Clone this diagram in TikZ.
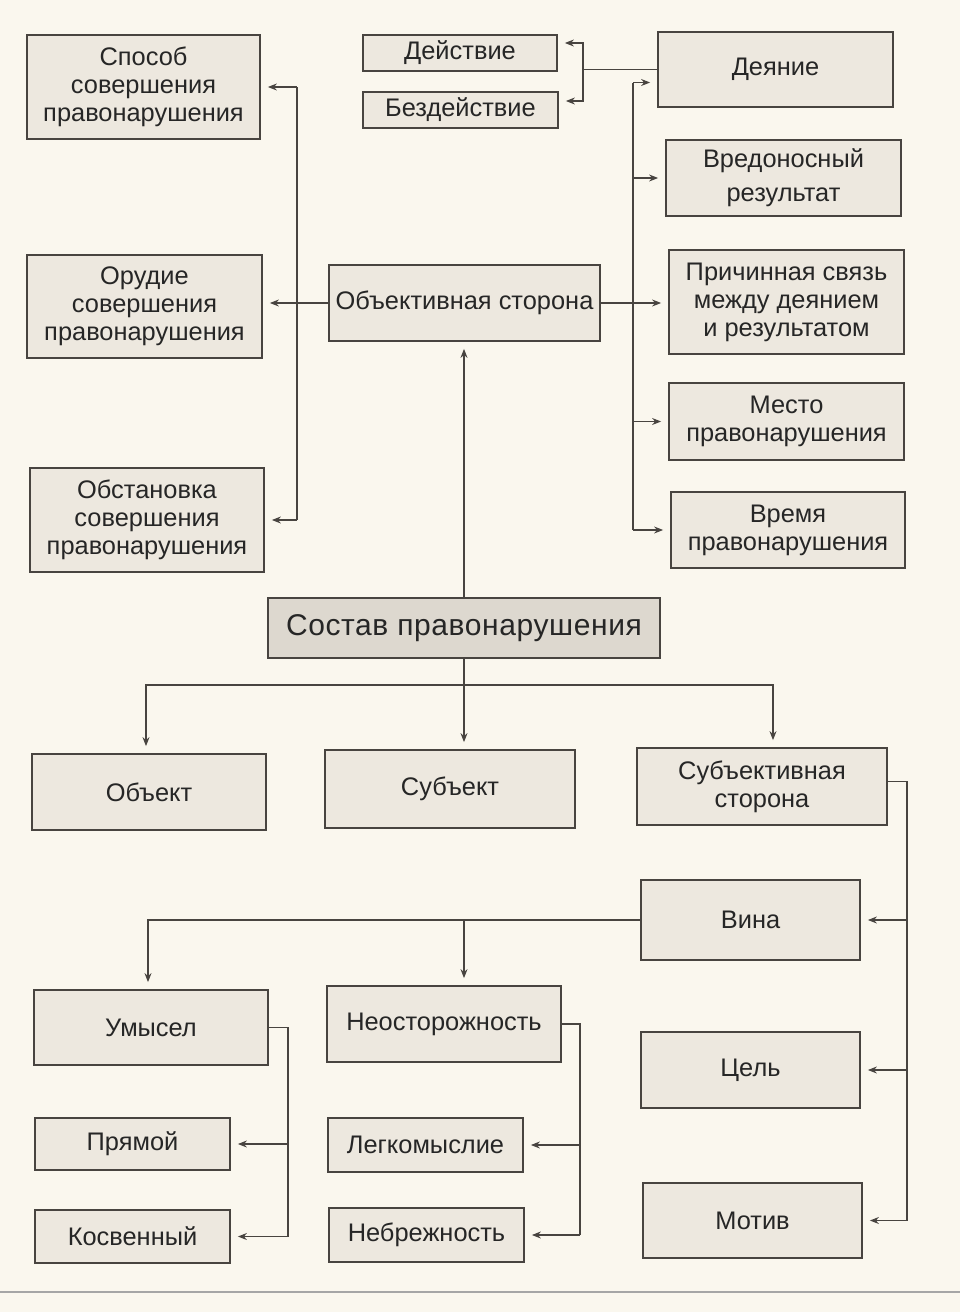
\documentclass[tikz,border=0pt]{standalone}
\usepackage{fontspec}
\setmainfont{Liberation Sans}
\usetikzlibrary{arrows.meta}
\definecolor{paper}{RGB}{250,247,238}
\definecolor{boxfill}{RGB}{237,232,223}
\definecolor{mainfill}{RGB}{221,216,207}
\definecolor{ink}{RGB}{72,68,64}
\begin{document}
\begin{tikzpicture}[x=1pt,y=-1pt,
        box/.style={draw=ink,line width=1.8pt,fill=boxfill,align=center,inner sep=2pt,
            text=black!85,font=\fontsize{25.4}{28}\selectfont},
        mainbox/.style={box,fill=mainfill,font=\fontsize{30}{32}\selectfont\addfontfeatures{LetterSpace=2}},
        arr/.style={-{Stealth[length=9pt,width=7pt]},ink,line width=1.1pt,shorten >=7pt},
        ln/.style={ink,line width=1.1pt}]
    \fill[paper] (0,0) rectangle (960,1312);
    \useasboundingbox (0,0) rectangle (960,1312);
    \draw[black!35,line width=1.2pt] (0,1292) -- (960,1292);
    % objective side
    \node[box,minimum width=271pt,minimum height=76pt] (obj) at (464.5,303) {Объективная сторона};
    \node[box,minimum width=233pt,minimum height=104pt] (sposob) at (143.5,87) {Способ\\совершения\\правонарушения};
    \node[box,minimum width=235pt,minimum height=103pt] (orud) at (144.5,306.5) {Орудие\\совершения\\правонарушения};
    \node[box,minimum width=234pt,minimum height=104pt] (obstan) at (147,520) {Обстановка\\совершения\\правонарушения};
    \node[box,minimum width=194pt,minimum height=36pt] (deistv) at (460,53) {Действие};
    \node[box,minimum width=195pt,minimum height=36pt] (bezd) at (460.5,110) {Бездействие};
    \node[box,minimum width=235pt,minimum height=75pt] (deyan) at (775.5,69.5) {Деяние};
    \node[box,minimum width=235pt,minimum height=76pt] (vred) at (783.5,178) {Вредоносный\\[6pt]результат};
    \node[box,minimum width=235pt,minimum height=104pt] (prich) at (786.5,302) {Причинная связь\\между деянием\\и результатом};
    \node[box,minimum width=235pt,minimum height=77pt] (mesto) at (786.5,421.5) {Место\\правонарушения};
    \node[box,minimum width=234pt,minimum height=76pt] (vremya) at (788,530) {Время\\правонарушения};
    % main node
    \node[mainbox,minimum width=392pt,minimum height=60pt] (sostav) at (464,628) {Состав правонарушения};
    % elements
    \node[box,minimum width=234pt,minimum height=76pt] (obekt) at (149,792) {Объект};
    \node[box,minimum width=250pt,minimum height=78pt] (subekt) at (450,789) {Субъект};
    \node[box,minimum width=250pt,minimum height=77pt] (subside) at (762,786.5) {Субъективная\\сторона};
    % subjective side
    \node[box,minimum width=219pt,minimum height=80pt] (vina) at (750.5,920) {Вина};
    \node[box,minimum width=219pt,minimum height=76pt] (cel) at (750.5,1070) {Цель};
    \node[box,minimum width=219pt,minimum height=75pt] (motiv) at (752.5,1220.5) {Мотив};
    \node[box,minimum width=234pt,minimum height=75pt] (umysel) at (151,1027.5) {Умысел};
    \node[box,minimum width=234pt,minimum height=76pt] (neost) at (444,1024) {Неосторожность};
    \node[box,minimum width=195pt,minimum height=52pt] (pryam) at (132.5,1144) {Прямой};
    \node[box,minimum width=195pt,minimum height=53pt] (kosv) at (132.5,1236.5) {Косвенный};
    \node[box,minimum width=195pt,minimum height=54pt] (legk) at (425.5,1145) {Легкомыслие};
    \node[box,minimum width=195pt,minimum height=54pt] (nebr) at (426.5,1235) {Небрежность};

    % connectors of the objective side
    \coordinate (lbus) at (297,0);
    \coordinate (rbus) at (633,0);
    \coordinate (tbus) at (583,0);
    \coordinate (deyin) at ([yshift=-13pt]deyan.west);
    \draw[arr] (obj.west) -- (obj.west -| orud.east);
    \draw[ln] (lbus |- sposob) -- (lbus |- obstan);
    \draw[arr] (lbus |- sposob) -- (sposob.east);
    \draw[arr] (lbus |- obstan) -- (obstan.east);
    \draw[arr] (obj.east) -- (obj.east -| prich.west);
    \draw[ln] (rbus |- deyin) -- (rbus |- vremya);
    \draw[arr] (rbus |- deyin) -- (deyin);
    \draw[arr] (rbus |- vred) -- (vred.west);
    \draw[arr] (rbus |- mesto) -- (mesto.west);
    \draw[arr] (rbus |- vremya) -- (vremya.west);
    \draw[ln] (deyan.west) -- (tbus |- deyan.west);
    \draw[arr] (tbus |- deyan.west) |- ([yshift=10pt]deistv.east);
    \draw[arr] (tbus |- deyan.west) |- ([yshift=9pt]bezd.east);
    % connectors of the main node
    \draw[arr] (sostav.north) -- (sostav.north |- obj.south);
    \coordinate (bar) at (0,685);
    \draw[arr] (sostav.south) -- (sostav.south |- subekt.north);
    \draw[arr] (bar -| sostav.south) -| ([xshift=-3pt]obekt.north);
    \draw[arr] (bar -| sostav.south) -| ([xshift=11pt]subside.north);
    % connectors of the subjective side
    \coordinate (sbus) at (907,0);
    \coordinate (subout) at ([yshift=5pt]subside.east);
    \draw[ln] (subout) -- (sbus |- subout) -- (sbus |- motiv);
    \draw[arr] (sbus |- vina) -- (vina.east);
    \draw[arr] (sbus |- cel) -- (cel.east);
    \draw[arr] (sbus |- motiv) -- (motiv.east);
    \draw[arr] (vina.west) -| ([xshift=-3pt]umysel.north);
    \draw[arr] (vina.west -| sostav.south) -- (neost.north -| sostav.south);
    \coordinate (ubus) at (288,0);
    \coordinate (nbus) at (580,0);
    \draw[ln] (umysel.east) -- (ubus |- umysel.east) -- (ubus |- kosv);
    \draw[arr] (ubus |- pryam) -- (pryam.east);
    \draw[arr] (ubus |- kosv) -- (kosv.east);
    \draw[ln] (neost.east) -- (nbus |- neost.east) -- (nbus |- nebr);
    \draw[arr] (nbus |- legk) -- (legk.east);
    \draw[arr] (nbus |- nebr) -- (nebr.east);
\end{tikzpicture}
\end{document}
